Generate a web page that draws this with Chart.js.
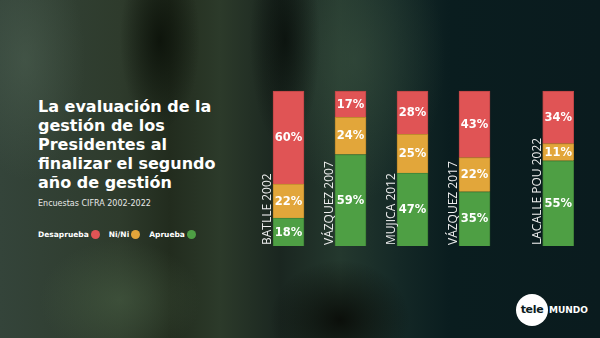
<!DOCTYPE html>
<html>
<head>
<meta charset="utf-8">
<script src="https://cdn.jsdelivr.net/npm/chart.js@4"></script>
<style>
  html, body { margin: 0; padding: 0; }
  body { width: 600px; height: 338px; overflow: hidden; position: relative; font-family: "DejaVu Sans", sans-serif; color: #fff;
    background:
      radial-gradient(ellipse 40px 90px at 160px 40px, rgba(10,16,8,0.85), rgba(10,16,8,0) 100%),
      radial-gradient(ellipse 35px 110px at 285px 40px, rgba(8,14,10,0.8), rgba(8,14,10,0) 100%),
      radial-gradient(ellipse 70px 60px at 340px 320px, rgba(8,10,6,0.9), rgba(8,10,6,0) 100%),
      radial-gradient(ellipse 90px 140px at 355px 60px, rgba(58,82,64,0.55), rgba(58,82,64,0) 100%),
      radial-gradient(ellipse 80px 60px at 120px 300px, rgba(70,92,66,0.6), rgba(70,92,66,0) 100%),
      radial-gradient(ellipse 60px 120px at 25px 60px, rgba(80,100,84,0.5), rgba(80,100,84,0) 100%),
      linear-gradient(90deg, #34443a 0px, #2e3b2c 120px, #222c1e 170px, #2c3a2a 220px, #1a2620 280px, #24382e 340px, #142826 400px, #0a1d1f 450px, #0a1b1e 600px);
  }
  #title { position: absolute; left: 38px; top: 97px; font-size: 16px; font-weight: bold; line-height: 19px; }
  #sub { position: absolute; left: 38px; top: 199px; font-size: 8px; line-height: 10px; color: #e8e8e8; }
  #legend { position: absolute; left: 38px; top: 230px; font-size: 7.5px; font-weight: bold; line-height: 10px; white-space: nowrap; }
  #legend span.dot { display: inline-block; width: 9px; height: 9px; border-radius: 50%; vertical-align: -2px; margin-left: 2px; margin-right: 9px; }
  #logo { position: absolute; left: 516px; top: 294px; white-space: nowrap; }
  #logo .c { display: inline-block; width: 32px; height: 32px; border-radius: 50%; background: #fff; color: #0a1b1e; font-weight: bold; font-size: 11px; line-height: 32px; text-align: center; vertical-align: middle; letter-spacing: -0.3px; }
  #logo .m { display: inline-block; font-weight: bold; font-size: 9px; vertical-align: middle; margin-left: 1px; }
  canvas { position: absolute; left: 0; top: 0; }
</style>
</head>
<body>
<div id="title">La evaluación de la<br>gestión de los<br>Presidentes al<br>finalizar el segundo<br>año de gestión</div>
<div id="sub">Encuestas CIFRA 2002-2022</div>
<div id="legend">Desaprueba<span class="dot" style="background:#e05455"></span>Ni/Ni<span class="dot" style="background:#e2a63a"></span>Aprueba<span class="dot" style="background:#4e9f44"></span></div>
<div id="logo"><span class="c">tele</span><span class="m">MUNDO</span></div>
<canvas id="myChart" width="600" height="338"></canvas>
<script>
const categories = ['BATLLE 2002', 'VÁZQUEZ 2007', 'MUJICA 2012', 'VÁZQUEZ 2017', 'LACALLE POU 2022'];
const aprueba = [18, 59, 47, 35, 55];
const nini = [22, 24, 25, 22, 11];
const desaprueba = [60, 17, 28, 43, 34];

// the last bar sits a bit further away than the others
const slot = i => i + (i === categories.length - 1 ? 0.35 : 0);
const toPoints = arr => arr.map((v, i) => ({ x: slot(i), y: v }));

const labelsPlugin = {
  id: 'labels',
  afterDatasetsDraw(chart) {
    const ctx = chart.ctx;
    ctx.save();
    ctx.fillStyle = '#fff';
    ctx.font = 'bold 11.5px "DejaVu Sans"';
    ctx.textAlign = 'center';
    ctx.textBaseline = 'middle';
    chart.data.datasets.forEach((ds, i) => {
      chart.getDatasetMeta(i).data.forEach((bar, j) => {
        ctx.fillText(ds.data[j].y + '%', bar.x, (bar.y + bar.base) / 2 + 0.5);
      });
    });
    // category names, rotated, left of each bar
    const bottom = chart.scales.y.getPixelForValue(0);
    ctx.font = '12px "Open Sans"';
    ctx.fillStyle = '#eeeeee';
    ctx.textAlign = 'left';
    ctx.textBaseline = 'alphabetic';
    chart.getDatasetMeta(0).data.forEach((bar, j) => {
      ctx.save();
      ctx.translate(bar.x - bar.width / 2 - 2, bottom - 1);
      ctx.rotate(-Math.PI / 2);
      ctx.fillText(categories[j], 0, 0);
      ctx.restore();
    });
    ctx.restore();
  }
};

const ctx = document.getElementById('myChart');

new Chart(ctx, {
  type: 'bar',
  data: {
    datasets: [{
      label: 'Aprueba',
      data: toPoints(aprueba),
      backgroundColor: '#4e9f44',
      borderColor: '#3f8237'
    }, {
      label: 'Ni/Ni',
      data: toPoints(nini),
      backgroundColor: '#e2a63a',
      borderColor: '#bf8a2c'
    }, {
      label: 'Desaprueba',
      data: toPoints(desaprueba),
      backgroundColor: '#e05455',
      borderColor: '#bd4445'
    }]
  },
  options: {
    responsive: false,
    animation: false,
    datasets: {
      bar: { barThickness: 31, borderWidth: 1, clip: false }
    },
    layout: { padding: { left: 257.5, right: 10.8, top: 91, bottom: 92 } },
    plugins: { legend: { display: false }, tooltip: { enabled: false } },
    scales: {
      x: { type: 'linear', offset: false, min: -0.5, max: 4.85, stacked: true, display: false },
      y: { min: 0, max: 100, stacked: true, display: false }
    }
  },
  plugins: [labelsPlugin]
});
</script>
</body>
</html>
